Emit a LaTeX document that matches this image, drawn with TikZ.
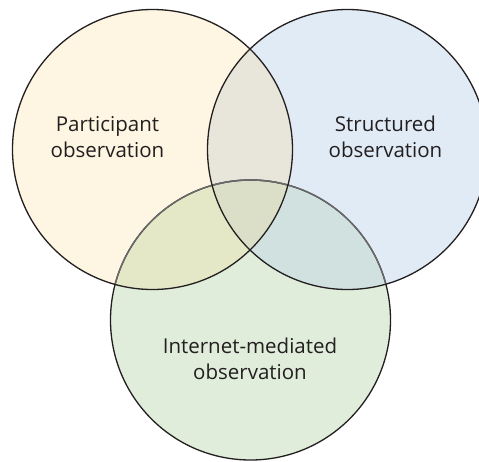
\documentclass[tikz,border=0pt]{standalone}
\usepackage{fontspec}
\setmainfont{Open Sans}
\usetikzlibrary{positioning}
\definecolor{Ink}{HTML}{231F20}
\definecolor{Cream}{HTML}{FEF6E2}
\definecolor{Sky}{HTML}{E1EBF5}
\definecolor{Mint}{HTML}{DFEDDA}
\definecolor{CreamSky}{HTML}{E8E5DA}
\definecolor{CreamMint}{HTML}{E5E8C7}
\definecolor{SkyMint}{HTML}{D0E1E0}
\definecolor{AllThree}{HTML}{DCDFC8}
\definecolor{Rim}{HTML}{6A6A6A}
\tikzset{
    setnode/.style={circle, minimum size=280pt, inner sep=0pt},
    rimline/.style={draw=Ink, line width=1.3pt},
    label/.style={align=center, text=Ink, font=\fontsize{20.5}{26}\selectfont, inner sep=0pt},
}

\begin{document}
\begin{tikzpicture}[x=1pt, y=-1pt]
    \useasboundingbox (0,0) rectangle (479,461);
    \clip (0,0) rectangle (479,461);
    % Cerchi
    \node[setnode] (part) at (152.5,149.5) {};
    \node[setnode] (stru) at (347.5,149.5) {};
    \node[setnode] (inet) at (250.5,320) {};

    % Riempimenti
    \fill[Cream] (part.center) circle (140pt);
    \fill[Sky] (stru.center) circle (140pt);
    \fill[Mint] (inet.center) circle (140pt);
    \begin{scope}
        \clip (part.center) circle (140pt);
        \fill[CreamSky] (stru.center) circle (140pt);
        \fill[CreamMint] (inet.center) circle (140pt);
    \end{scope}
    \begin{scope}
        \clip (stru.center) circle (140pt);
        \fill[SkyMint] (inet.center) circle (140pt);
    \end{scope}
    \begin{scope}
        \clip (part.center) circle (140pt);
        \clip (stru.center) circle (140pt);
        \fill[AllThree] (inet.center) circle (140pt);
    \end{scope}

    % Bordo inferiore (grigio dentro gli altri cerchi)
    \draw[rimline] (inet.center) circle (140pt);
    \begin{scope}
        \clip (part.center) circle (140pt);
        \draw[Rim, line width=1.4pt] (inet.center) circle (140pt);
    \end{scope}
    \begin{scope}
        \clip (stru.center) circle (140pt);
        \draw[Rim, line width=1.4pt] (inet.center) circle (140pt);
    \end{scope}
    \draw[rimline] (part.center) circle (140pt);
    \draw[rimline] (stru.center) circle (140pt);

    % Testi
    \node[label] (partlbl) at (107.5,137) {Participant\\observation};
    \node[label] (strulbl) at (385.5,137) {Structured\\observation};
    \node[label] (inetlbl) at (250,359) {Internet-mediated\\observation};
\end{tikzpicture}
\end{document}
